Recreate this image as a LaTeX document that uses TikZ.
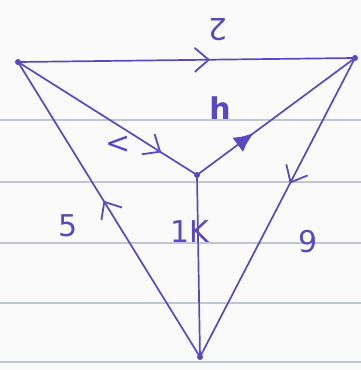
\documentclass[tikz,border=0pt]{standalone}
\usepackage{fontspec}
\setmainfont{DejaVu Sans}
\usetikzlibrary{arrows.meta,decorations.markings}
\definecolor{ink}{RGB}{92,72,190}
\definecolor{rule}{RGB}{190,200,210}
\definecolor{paper}{RGB}{250,250,250}
\tikzset{
  vdot/.style={circle,fill=ink,inner sep=0pt,minimum size=6pt},
  edge/.style={draw=ink,line width=1.7pt},
  openmark/.style={postaction={decorate},decoration={markings,
    mark=at position #1 with {\arrow[ink,line width=0.9pt,scale=2]{Straight Barb[length=7pt,width=12pt]}}}},
  fillmark/.style={postaction={decorate},decoration={markings,
    mark=at position #1 with {\arrow[ink,scale=2]{Latex[length=10pt,width=9pt]}}}},
  lab/.style={text=ink,font=\fontsize{30}{32}\selectfont,inner sep=1pt},
  ruling/.style={draw=rule,line width=1.2pt}
}
\begin{document}
\begin{tikzpicture}[x=1pt,y=-1pt]
\fill[paper] (0,0) rectangle (361,370);
\useasboundingbox (0,0) rectangle (361,370);
\foreach \y in {120,182,243,303,362} {\draw[ruling] (0,\y) -- (361,\y);}
\node[vdot] (A) at (18,62) {};
\node[vdot] (B) at (355,58) {};
\node[vdot] (C) at (200,357) {};
\node[vdot] (D) at (197,175) {};
\draw[edge,openmark=0.57] (A.center) -- (B.center);
\draw[edge,openmark=0.8] (A.center) -- (D.center);
\draw[edge,fillmark=0.36] (D.center) -- (B.center);
\draw[edge,openmark=0.42] (B.center) -- (C.center);
\draw[edge,openmark=0.53] (C.center) -- (A.center);
\draw[edge] (C.center) -- (D.center);
\node[lab,rotate=180] (l2) at (218,30) {2};
\node[lab] (l3) at (118,145) {<};
\node[lab,font=\bfseries\fontsize{30}{32}\selectfont] (l4) at (220,108) {h};
\node[lab] (l5) at (68,226) {5};
\node[lab] (l1) at (190,232) {1K};
\node[lab] (l6) at (308,242) {9};
\end{tikzpicture}
\end{document}
